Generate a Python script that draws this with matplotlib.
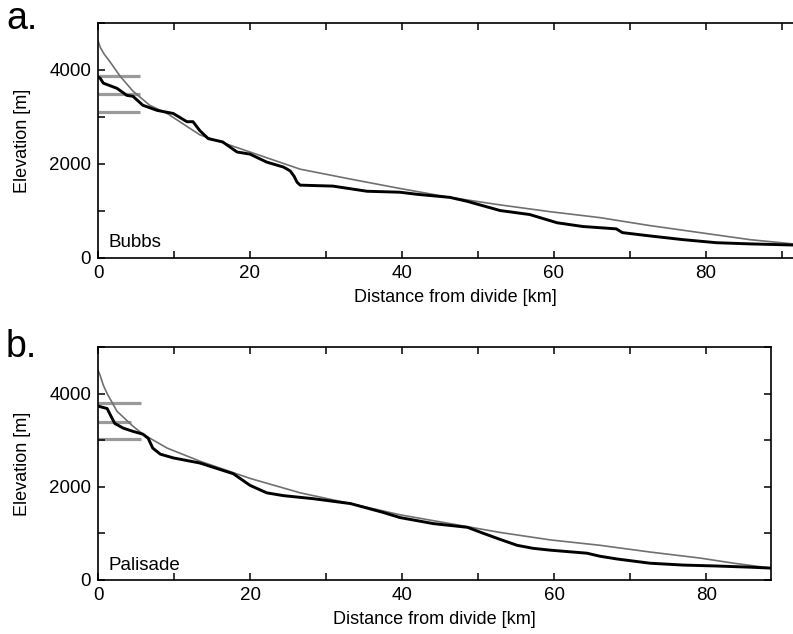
import matplotlib
matplotlib.use("Agg")
import matplotlib.pyplot as plt
from matplotlib.ticker import MultipleLocator

plt.rcParams['font.family'] = ['Liberation Sans', 'DejaVu Sans']

# ---- Panel a: Bubbs ----
bubbs_fit_x = [0, 0.3, 0.8, 1.6, 2.9, 4.6, 6.8, 9.1, 13.4, 20, 26.6, 33.2, 39.7, 46.3, 52.9, 59.5, 66, 72.6, 79.2, 85.8, 93]
bubbs_fit_y = [4620, 4480, 4340, 4170, 3870, 3550, 3250, 3075, 2620, 2255, 1890, 1680, 1480, 1290, 1130, 985, 860, 690, 540, 390, 275]
bubbs_x = [0, 0.26, 0.7, 2.5, 3.8, 4.6, 5.9, 7.8, 9.9, 11.7, 12.5, 13.4, 14.5, 16.4, 18.3, 20, 22.2, 24.4,
           24.9, 25.3, 25.8, 26.2, 26.6, 30.9, 35.4, 39.7, 42, 46.3, 48.6, 52.9, 56.8, 60.4, 63.8, 68.2, 69,
           72.6, 77, 81.4, 85.8, 93]
bubbs_y = [3850, 3830, 3720, 3610, 3460, 3440, 3250, 3140, 3075, 2900, 2900, 2710, 2540, 2470, 2255, 2210, 2040, 1935,
           1890, 1850, 1740, 1610, 1550, 1530, 1420, 1400, 1355, 1290, 1205, 1010, 925, 750, 670, 620, 540,
           470, 390, 325, 300, 270]
bubbs_bars_y = [3880, 3500, 3110]
bubbs_bars_len = [5.5, 5.5, 5.5]

# ---- Panel b: Palisade ----
pal_fit_x = [0, 0.26, 0.7, 1.2, 2.5, 4.6, 5.9, 9.1, 13.4, 20, 26.6, 33.2, 39.7, 46.3, 52.9, 59.5, 66, 72.6, 79.2, 83.6, 88.5]
pal_fit_y = [4500, 4400, 4180, 4000, 3620, 3300, 3130, 2830, 2550, 2180, 1870, 1640, 1400, 1210, 1020, 860, 745, 600, 470, 360, 255]
pal_x = [0, 0.26, 1.2, 1.6, 2.2, 3.3, 4.6, 5.9, 6.6, 7.2, 8.2, 9.9, 13.4, 17.8, 20, 22.2, 24.4, 28.3, 33.2,
         37.5, 39.7, 44.1, 48.6, 50.7, 52.9, 55.1, 57.2, 59.5, 64.3, 66, 68.3, 72.6, 77, 81.4, 85.8, 88.5]
pal_y = [3740, 3720, 3680, 3550, 3360, 3260, 3190, 3130, 3040, 2830, 2700, 2620, 2510, 2280, 2030, 1870, 1810, 1745, 1640,
         1450, 1340, 1210, 1130, 1000, 870, 745, 680, 640, 575, 510, 450, 360, 320, 300, 275, 255]
pal_bars_y = [3790, 3400, 3020]
pal_bars_len = [5.7, 4.4, 5.7]

W, H = 793, 634
fig = plt.figure(figsize=(W / 100, H / 100), dpi=100)

def make_ax(left_px, right_px, top_px, bottom_px):
    return fig.add_axes([left_px / W, 1 - bottom_px / H, (right_px - left_px) / W, (bottom_px - top_px) / H])

panels = [
    dict(ax=make_ax(98, 98 + 94 * 7.6, 23, 258), xmax=94, fx=bubbs_fit_x, fy=bubbs_fit_y,
         x=bubbs_x, y=bubbs_y, bars=bubbs_bars_y, blen=bubbs_bars_len, name='Bubbs'),
    dict(ax=make_ax(98, 771, 347, 580), xmax=88.5, fx=pal_fit_x, fy=pal_fit_y,
         x=pal_x, y=pal_y, bars=pal_bars_y, blen=pal_bars_len, name='Palisade'),
]

for p in panels:
    ax = p['ax']
    for by, bl in zip(p['bars'], p['blen']):
        ax.plot([0, bl], [by, by], color='#9a9a9a', lw=2.3, solid_capstyle='butt', zorder=1)
    ax.plot(p['fx'], p['fy'], color='#707070', lw=1.2, zorder=2)
    ax.plot(p['x'], p['y'], color='black', lw=2.1, zorder=3)
    ax.set_xlim(0, p['xmax'])
    ax.set_ylim(0, 5000)
    ax.xaxis.set_major_locator(MultipleLocator(20))
    ax.xaxis.set_minor_locator(MultipleLocator(10))
    ax.yaxis.set_major_locator(MultipleLocator(2000))
    ax.yaxis.set_minor_locator(MultipleLocator(1000))
    ax.tick_params(which='both', direction='in', top=True, right=True, labelsize=13.5,
                   width=1.1, pad=5, length=5)
    for s in ax.spines.values():
        s.set_linewidth(1.2)
    ax.set_xlabel('Distance from divide [km]', fontsize=13, labelpad=5)
    ax.set_ylabel('Elevation [m]', fontsize=13, labelpad=13)
    ax.text(1.35, 0.045 * 5000, p['name'], fontsize=13.5, ha='left', va='baseline')
    ax.patch.set_alpha(0)

fig.text(6 / W, 1 - 19 / H, 'a.', fontsize=27, ha='left', va='center')
fig.text(6 / W, 1 - 347 / H, 'b.', fontsize=27, ha='left', va='center')

fig.savefig('out.png', dpi=100)
